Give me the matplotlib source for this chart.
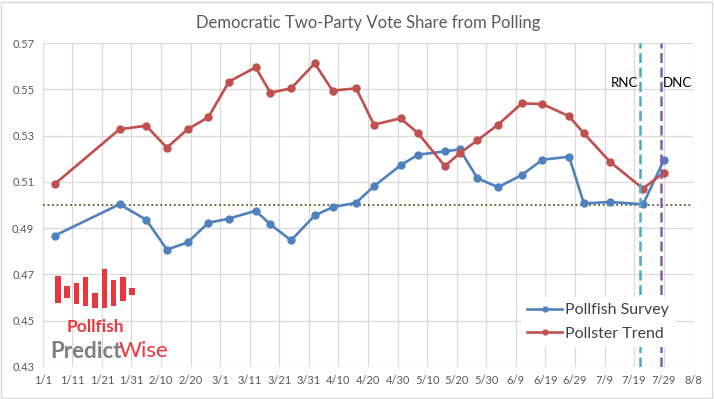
import pandas as pd
import matplotlib.pyplot as plt
import matplotlib.dates as mdates
from matplotlib.ticker import FuncFormatter
from matplotlib.patches import Rectangle

# Poll dates (2016) shared by both series
dates = ['2016-01-05', '2016-01-27', '2016-02-05', '2016-02-12', '2016-02-19',
         '2016-02-26', '2016-03-04', '2016-03-13', '2016-03-18', '2016-03-25',
         '2016-04-02', '2016-04-08', '2016-04-16', '2016-04-22', '2016-05-01',
         '2016-05-07', '2016-05-16', '2016-05-21', '2016-05-27', '2016-06-03',
         '2016-06-11', '2016-06-18', '2016-06-27', '2016-07-02', '2016-07-11',
         '2016-07-22', '2016-07-29']

pollfish = [0.4867, 0.5003, 0.4936, 0.4807, 0.4838, 0.4923, 0.4941, 0.4975,
            0.4916, 0.4847, 0.4955, 0.4990, 0.5010, 0.5081, 0.5172, 0.5218,
            0.5232, 0.5241, 0.5116, 0.5077, 0.5130, 0.5196, 0.5209, 0.5007,
            0.5013, 0.5003, 0.5193]

pollster = [0.5090, 0.5328, 0.5343, 0.5248, 0.5328, 0.5380, 0.5534, 0.5596,
            0.5486, 0.5505, 0.5613, 0.5495, 0.5505, 0.5348, 0.5375, 0.5310,
            0.5168, 0.5224, 0.5280, 0.5348, 0.5440, 0.5437, 0.5384, 0.5310,
            0.5185, 0.5071, 0.5140]

yticks = [0.43, 0.45, 0.47, 0.49, 0.51, 0.53, 0.55, 0.57]

conventions = ['RNC', 'DNC']
convention_dates = ['2016-07-21', '2016-07-28']
convention_colors = ['#4BACC6', '#8064A2']

# logo bars (decorative)
logo_x = [0, 1, 2, 3, 4, 5, 6, 7, 8]
logo_top = [0.83, 0.57, 0.64, 0.79, 0.38, 1.00, 0.71, 0.79, 0.51]
logo_bottom = [0.13, 0.26, 0.11, 0.05, 0.00, 0.00, 0.04, 0.17, 0.34]

dates = pd.to_datetime(dates)
convention_dates = pd.to_datetime(convention_dates)

plt.rcParams['font.family'] = ['Lato', 'DejaVu Sans']

fig = plt.figure(figsize=(7.14, 3.99), dpi=100)
ax = fig.add_axes([42.7 / 714, (399 - 366.7) / 399, (693.3 - 42.7) / 714, (366.7 - 43.3) / 399])

ax.plot(dates, pollfish, color='#4F81BD', lw=1.9, marker='o', markersize=5, label='Pollfish Survey', zorder=4)
ax.plot(dates, pollster, color='#C0504D', lw=1.9, marker='o', markersize=5, label='Pollster Trend', zorder=4)

ax.axhline(0.50, color='#4F6228', lw=1.3, linestyle=(0, (1, 1.5)), zorder=3)

for name, d, c in zip(conventions, convention_dates, convention_colors):
    ax.axvline(d, color=c, lw=1.8, linestyle=(0, (4, 1.8)), zorder=5)
ax.text(convention_dates[0] - pd.Timedelta(days=0.8), 0.5527, conventions[0],
        ha='right', va='center', fontsize=9.5, color='black')
ax.text(convention_dates[1] + pd.Timedelta(days=0.8), 0.5527, conventions[1],
        ha='left', va='center', fontsize=9.5, color='black')

ax.set_xlim(pd.Timestamp('2016-01-01'), pd.Timestamp('2016-08-08'))
ax.set_ylim(0.43, 0.57)
xticks = pd.date_range('2016-01-01', '2016-08-08', freq='10D')
ax.set_xticks(xticks)
ax.xaxis.set_major_formatter(FuncFormatter(lambda v, p: f"{mdates.num2date(v).month}/{mdates.num2date(v).day}"))
ax.set_yticks(yticks)
ax.yaxis.set_major_formatter(FuncFormatter(lambda v, p: f"{v:.2f}"))
ax.tick_params(length=0, labelsize=8, colors='#595959', pad=6)
ax.grid(True, color='#D9D9D9', lw=0.9)
ax.set_axisbelow(True)
for s in ax.spines.values():
    s.set_visible(False)

ax.set_title('Democratic Two-Party Vote Share from Polling', fontsize=12, color='#595959', pad=11)

leg = ax.legend(loc='lower right', bbox_to_anchor=(0.985, 0.035), frameon=True, fancybox=False,
                framealpha=1, edgecolor='none', fontsize=11.5, handlelength=2.2, handletextpad=0.2,
                labelspacing=0.6, markerscale=0.7)
for t in leg.get_texts():
    t.set_color('#404040')

# logo
lax = fig.add_axes([55 / 714, (399 - 308) / 399, 80 / 714, 39 / 399])
lax.bar(logo_x, [t - b for t, b in zip(logo_top, logo_bottom)], bottom=logo_bottom,
        width=0.6, color='#E8383D')
lax.set_xlim(-0.3, 8.3)
lax.set_ylim(0, 1)
lax.axis('off')
fig.text(95 / 714, 1 - 327 / 399, 'Pollfish', ha='center', va='center', fontsize=12.5,
         fontweight='bold', color='#E8383D')
t1 = fig.text(50 / 714, 1 - 351 / 399, 'Predict', ha='left', va='center', fontsize=16,
              fontweight='bold', color='#7F7F7F')
fig.canvas.draw()
bb = t1.get_window_extent()
fig.text((bb.x1 - 3) / 714, 1 - 351 / 399, 'Wise', ha='left', va='center', fontsize=16,
         color='#E8383D')

fig.patches.append(Rectangle((1 / 714, 1 / 399), 711 / 714, 396 / 399, transform=fig.transFigure,
                             fill=False, edgecolor='#D9D9D9', lw=1))

fig.savefig('out.png', dpi=100)
